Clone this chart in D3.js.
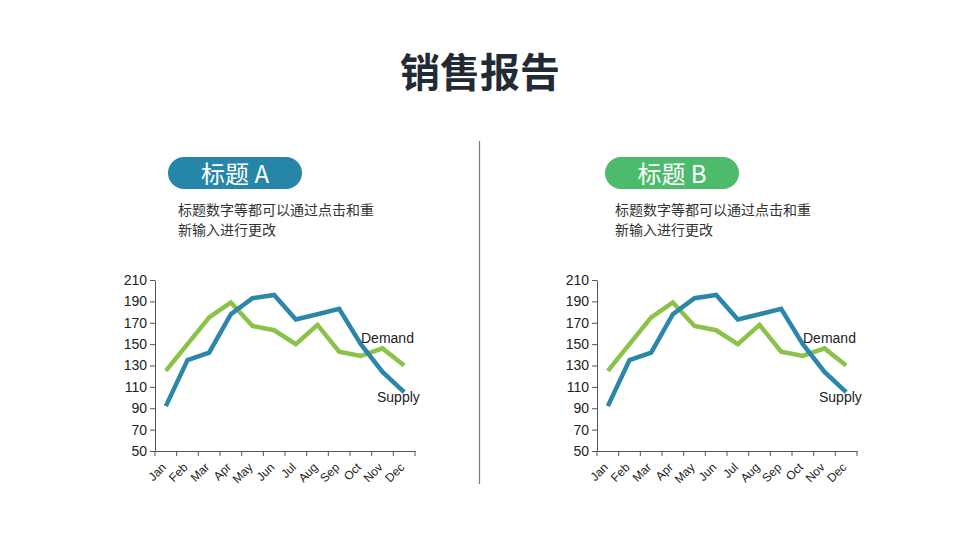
<!DOCTYPE html>
<html><head><meta charset="utf-8">
<script src="https://cdn.jsdelivr.net/npm/d3@7/dist/d3.min.js"></script>
<style>body{margin:0;background:#fff;}svg{display:block;}</style>
</head><body>
<svg id="c" width="960" height="540"></svg>
<script>
const months = ["Jan","Feb","Mar","Apr","May","Jun","Jul","Aug","Sep","Oct","Nov","Dec"];
const supply = [92,135,142,178,193,196,173,178,183,150,124,105];
const demand = [125,150,175,189,167,163,150,168,143,139,146,130];
const yTicks = [50,70,90,110,130,150,170,190,210];
const titles = ["标题 A","标题 B"];
const pillColors = ["#2586a7","#4cbc6c"];
const descLines = ["标题数字等都可以通过点击和重","新输入进行更改"];

const svg = d3.select("#c");
const font = "'Noto Sans CJK SC','Noto Sans',sans-serif";
const latin = "'Liberation Sans',Arial,sans-serif";

svg.append("text").attr("x",480).attr("y",87).attr("text-anchor","middle")
  .attr("font-family",font).attr("font-weight","bold").attr("font-size",40)
  .attr("fill","#222a35").text("销售报告");

svg.append("line").attr("x1",479.5).attr("x2",479.5).attr("y1",141).attr("y2",484)
  .attr("stroke","#7a7a7a").attr("stroke-width",1.2);

function panel(i, dx, cdx){
  const g = svg.append("g");
  g.append("rect").attr("x",168+dx).attr("y",157).attr("width",134).attr("height",32)
    .attr("rx",16).attr("fill",pillColors[i]);
  g.append("text").attr("x",235+dx).attr("y",183).attr("text-anchor","middle")
    .attr("font-family",font).attr("font-size",24).attr("fill","#fff").text(titles[i]);
  descLines.forEach((t,j)=>{
    g.append("text").attr("x",178+dx).attr("y",215+j*20).attr("font-family",font)
      .attr("font-size",14).attr("fill","#333").text(t);
  });

  const x = d3.scaleBand().domain(months).range([155+cdx,415+cdx]);
  const y = d3.scaleLinear().domain([50,210]).range([451,280]);
  const cg = svg.append("g");
  const yAxis = cg.append("g").attr("transform",`translate(${155+cdx},0)`)
    .call(d3.axisLeft(y).tickValues(yTicks).tickSize(5).tickSizeOuter(0));
  yAxis.select(".domain").attr("stroke","#555");
  yAxis.selectAll(".tick line").attr("stroke","#555");
  yAxis.selectAll("text").attr("font-family",latin)
    .attr("font-size",14).attr("fill","#222");

  const xAxis = cg.append("g").attr("transform",`translate(0,451)`)
    .call(d3.axisBottom(x).tickSize(0).tickSizeOuter(0));
  xAxis.select(".domain").attr("stroke","#555");
  const edges = months.map(m=>x(m)).concat([x.range()[1]]);
  cg.selectAll(".edge"+i).data(edges).enter().append("line")
    .attr("x1",d=>d).attr("x2",d=>d).attr("y1",451).attr("y2",456).attr("stroke","#555");
  xAxis.selectAll("text").attr("font-family",latin)
    .attr("font-size",12).attr("fill","#222")
    .attr("text-anchor","end").attr("x",0).attr("y",0).attr("dy",0)
    .attr("transform","translate(1,17) rotate(-45)");

  const line = d3.line().x((d,k)=>x(months[k])+x.bandwidth()/2).y(d=>y(d));
  cg.append("path").datum(demand).attr("d",line).attr("fill","none")
    .attr("stroke","#8bc34a").attr("stroke-width",4.5).attr("stroke-linejoin","miter");
  cg.append("path").datum(supply).attr("d",line).attr("fill","none")
    .attr("stroke","#2b86a8").attr("stroke-width",4.5).attr("stroke-linejoin","miter");
  cg.append("text").attr("x",361+cdx).attr("y",343).attr("font-family",latin)
    .attr("font-size",14).attr("fill","#222").text("Demand");
  cg.append("text").attr("x",377+cdx).attr("y",402).attr("font-family",latin)
    .attr("font-size",14).attr("fill","#222").text("Supply");
}
panel(0,0,0);
panel(1,437,442);
</script>
</body></html>
